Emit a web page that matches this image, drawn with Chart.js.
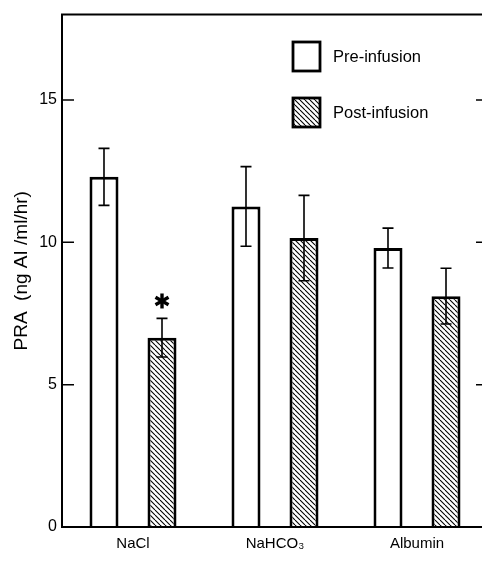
<!DOCTYPE html>
<html>
<head>
<meta charset="utf-8">
<script src="https://cdn.jsdelivr.net/npm/chart.js@4.4.1/dist/chart.umd.min.js"></script>
<style>
  html, body { margin: 0; padding: 0; background: #fff; overflow: hidden; }
  #wrap { width: 500px; height: 562px; }
</style>
</head>
<body>
<div id="wrap"><canvas id="prChart" width="500" height="562"></canvas></div>
<script>
// ====================== DATA ======================
const categories = ["NaCl", "NaHCO₃", "Albumin"];
const preValues = [12.3, 11.26, 9.8];
const preErrors = [1.0, 1.4, 0.7];
const postValues = [6.65, 10.15, 8.11];
const postErrors = [0.68, 1.5, 0.98];
const yTicks = [0, 5, 10, 15];
const seriesNames = ["Pre-infusion", "Post-infusion"];
const starValue = 7.94;   // asterisk above NaCl post-infusion
const starIndex = 0;

const FONT = "'Liberation Sans', Arial, sans-serif";

// ====================== HATCH PATTERN ======================
function makeHatch() {
  const s = 5;
  const c = document.createElement("canvas");
  c.width = s; c.height = s;
  const g = c.getContext("2d");
  g.fillStyle = "#fff";
  g.fillRect(0, 0, s, s);
  g.strokeStyle = "#000";
  g.lineWidth = 1.1;
  for (const x of [-s, 0, s]) {
    g.beginPath();
    g.moveTo(x, 0);
    g.lineTo(x + s, s);
    g.stroke();
  }
  return g.createPattern(c, "repeat");
}
const hatch = makeHatch();

// ====================== PLUGINS ======================
const framePlugin = {
  id: "frame",
  afterDatasetsDraw(chart) {
    const { ctx, chartArea: a, scales } = chart;
    const y = scales.y;
    ctx.save();
    ctx.strokeStyle = "#000";
    ctx.lineWidth = 2;
    ctx.beginPath();
    ctx.moveTo(a.left, a.top);
    ctx.lineTo(a.right, a.top);
    ctx.lineTo(a.right, a.bottom);
    ctx.lineTo(a.left, a.bottom);
    ctx.closePath();
    ctx.stroke();
    // inward ticks on both sides
    ctx.lineWidth = 1.5;
    yTicks.forEach(v => {
      if (v === 0) return;
      const py = y.getPixelForValue(v);
      ctx.beginPath();
      ctx.moveTo(a.left, py); ctx.lineTo(a.left + 12, py);
      ctx.moveTo(a.right, py); ctx.lineTo(a.right - 12, py);
      ctx.stroke();
    });
    ctx.restore();
  }
};

const errorBarPlugin = {
  id: "errorBars",
  afterDatasetsDraw(chart) {
    const { ctx, scales } = chart;
    const y = scales.y;
    const errs = [preErrors, postErrors];
    ctx.save();
    ctx.strokeStyle = "#000";
    ctx.lineWidth = 1.6;
    chart.data.datasets.forEach((ds, di) => {
      const meta = chart.getDatasetMeta(di);
      meta.data.forEach((bar, i) => {
        const v = ds.data[i];
        const e = errs[di][i];
        const x = bar.x;
        const top = y.getPixelForValue(v + e);
        const bot = y.getPixelForValue(v - e);
        ctx.beginPath();
        ctx.moveTo(x, top); ctx.lineTo(x, bot);
        ctx.moveTo(x - 5.5, top); ctx.lineTo(x + 5.5, top);
        ctx.moveTo(x - 5.5, bot); ctx.lineTo(x + 5.5, bot);
        ctx.stroke();
      });
    });
    // asterisk
    const bar = chart.getDatasetMeta(1).data[starIndex];
    const cx = bar.x, cy = y.getPixelForValue(starValue);
    ctx.lineWidth = 3.4;
    for (let k = 0; k < 3; k++) {
      const ang = Math.PI / 2 + k * Math.PI / 3;
      const dx = Math.cos(ang) * 7.5, dy = Math.sin(ang) * 7.5;
      ctx.beginPath();
      ctx.moveTo(cx - dx, cy - dy); ctx.lineTo(cx + dx, cy + dy);
      ctx.stroke();
    }
    ctx.restore();
  }
};

const legendPlugin = {
  id: "boxLegend",
  afterDraw(chart) {
    const { ctx } = chart;
    const items = [
      { fill: "#fff", y: 42, label: seriesNames[0] },
      { fill: hatch, y: 98, label: seriesNames[1] }
    ];
    ctx.save();
    items.forEach(it => {
      ctx.fillStyle = it.fill;
      ctx.fillRect(293, it.y, 27, 29);
      ctx.strokeStyle = "#000";
      ctx.lineWidth = 2.8;
      ctx.strokeRect(293, it.y, 27, 29);
      ctx.fillStyle = "#000";
      ctx.font = "16.5px " + FONT;
      ctx.textBaseline = "middle";
      ctx.textAlign = "left";
      ctx.fillText(it.label, 333, it.y + 15);
    });
    ctx.restore();
  }
};

// ====================== CHART ======================
new Chart(document.getElementById("prChart"), {
  type: "bar",
  data: {
    labels: categories,
    datasets: [
      {
        label: seriesNames[0],
        data: preValues,
        backgroundColor: "#fff",
        borderColor: "#000",
        borderWidth: 3,
        borderSkipped: "bottom"
      },
      {
        label: seriesNames[1],
        data: postValues,
        backgroundColor: hatch,
        borderColor: "#000",
        borderWidth: 3,
        borderSkipped: "bottom"
      }
    ]
  },
  options: {
    responsive: false,
    animation: false,
    devicePixelRatio: 1,
    layout: { padding: { top: 13, right: 12, bottom: 0, left: 0 } },
    categoryPercentage: 0.817,
    barPercentage: 0.5,
    plugins: {
      legend: { display: false },
      tooltip: { enabled: false }
    },
    scales: {
      x: {
        grid: { display: false, drawTicks: false },
        border: { display: false },
        ticks: { color: "#000", padding: 8, font: { family: FONT, size: 15 } },
        afterFit(scale) { scale.height = 35; }
      },
      y: {
        min: 0,
        max: 18,
        afterBuildTicks(scale) { scale.ticks = yTicks.map(v => ({ value: v })); },
        grid: { display: false, drawTicks: false },
        border: { display: false },
        ticks: { color: "#000", padding: 5, font: { family: FONT, size: 16 } },
        title: {
          display: true,
          text: "PRA  (ng AI /ml/hr)",
          color: "#000",
          font: { family: FONT, size: 19 },
          padding: { top: 10, bottom: 0 }
        },
        afterFit(scale) { scale.width = 62; }
      }
    }
  },
  plugins: [framePlugin, errorBarPlugin, legendPlugin]
});
</script>
</body>
</html>
